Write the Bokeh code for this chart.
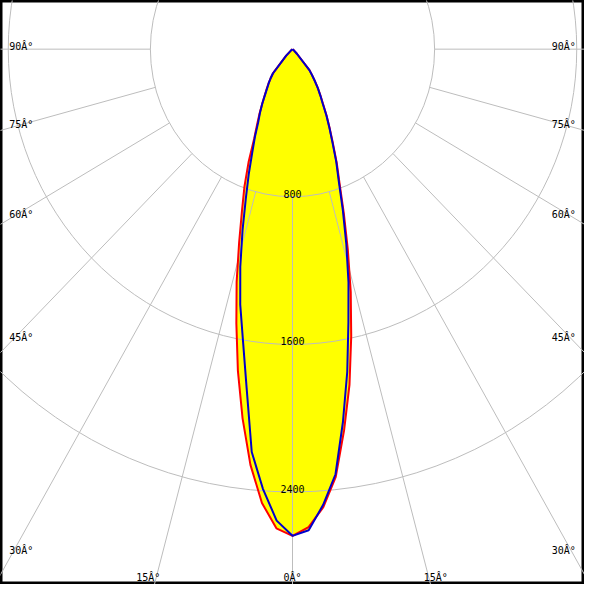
import numpy as np
from bokeh.plotting import figure
from bokeh.models import Range1d
from bokeh.core.properties import value
from bokeh.embed import file_html
from bokeh.resources import INLINE

# ---- data (cd) ----
angles = [0, 2, 4, 6, 8, 10, 12, 14, 16, 18, 20, 22, 24, 26, 28, 30, 32, 34, 36, 38, 40,
          45, 50, 55, 60, 65, 70, 75, 80, 85, 90]
c0 = [2637, 2591, 2488, 2330, 2086, 1847, 1590, 1355, 1130, 935, 775, 665, 560, 478, 410, 345,
      298, 257, 217, 180, 150, 35, 10, 0, 0, 0, 0, 0, 0, 0, 0]
c180 = [2637, 2598, 2465, 2265, 2020, 1770, 1520, 1300, 1090, 920, 790, 660, 530, 455, 395, 340,
        295, 260, 230, 200, 170, 50, 10, 0, 0, 0, 0, 0, 0, 0, 0]
c90 = [2637, 2608, 2475, 2316, 2040, 1775, 1514, 1303, 1099, 917, 762, 657, 553, 474, 406, 340,
       295, 255, 215, 178, 148, 35, 10, 0, 0, 0, 0, 0, 0, 0, 0]
c270 = [2637, 2556, 2388, 2195, 1855, 1605, 1415, 1215, 1020, 850, 720, 605, 520, 440, 390, 340,
        292, 255, 228, 200, 172, 50, 10, 0, 0, 0, 0, 0, 0, 0, 0]

ring_values = [800, 1600, 2400]
ring_labels = ["800", "1600", "2400"]
ray_angles = [-90, -75, -60, -45, -30, -15, 0, 15, 30, 45, 60, 75, 90]
side_angles = [90, 75, 60, 45, 30]
side_labels = ["90Â°", "75Â°", "60Â°", "45Â°", "30Â°"]
bottom_angles = [-15, 0, 15]
bottom_labels = ["15Â°", "0Â°", "15Â°"]

# ---- scales ----
SX = 5.479   # cd per reference pixel, horizontal
SY = 5.274   # cd per reference pixel, vertical
XR = 300 * SX
p = figure(width=584, height=584, output_backend="svg", toolbar_location=None,
           x_range=Range1d(-XR, XR), y_range=Range1d(-550 * SY, 50 * SY),
           x_axis_type=None, y_axis_type=None, min_border=0)
p.grid.visible = False
p.background_fill_color = "white"
p.border_fill_color = "white"
p.outline_line_color = "black"
p.outline_line_width = 4


def curve(right, left):
    a = np.radians(np.array(angles, dtype=float))
    r = np.array(right, dtype=float)
    l = np.array(left, dtype=float)
    xl = -(l * np.sin(a))[::-1]
    yl = -(l * np.cos(a))[::-1]
    xr = r * np.sin(a)
    yr = -(r * np.cos(a))
    return np.concatenate([xl, xr[1:]]), np.concatenate([yl, yr[1:]])


rx, ry = curve(c0, c180)
bx, by = curve(c90, c270)

# fills
p.patch(rx, ry, fill_color="#ffff00", line_color=None)
p.patch(bx, by, fill_color="#ffff00", line_color=None)

# grid
grid_col = "#bdbdbd"
for R in ring_values:
    p.ellipse(x=0, y=0, width=2 * R, height=2 * R, fill_color=None,
              line_color=grid_col, line_width=1)
ra = np.radians(np.array(ray_angles, dtype=float))
r0 = ring_values[0]
r1 = 6000
p.segment(x0=r0 * np.sin(ra), y0=-r0 * np.cos(ra), x1=r1 * np.sin(ra), y1=-r1 * np.cos(ra),
          line_color=grid_col, line_width=1)

font = value("DejaVu Sans Mono")
fs = "10px"

# ring labels
p.text(x=[0] * len(ring_values), y=[-v for v in ring_values], text=ring_labels,
       text_align="center", text_baseline="alphabetic", y_offset=-3,
       text_font=font, text_font_size=fs, text_color="black")

# side labels
sa = np.radians(np.array(side_angles, dtype=float))
xs = 291 * SX
cot = np.cos(sa) / np.sin(sa)
ys = -xs * cot
offs = -(3 + 3 * cot)
p.text(x=[-xs] * len(sa), y=ys, text=side_labels, text_align="left",
       text_baseline="alphabetic", y_offset=offs,
       text_font=font, text_font_size=fs, text_color="black")
p.text(x=[xs] * len(sa), y=ys, text=side_labels, text_align="right",
       text_baseline="alphabetic", y_offset=offs,
       text_font=font, text_font_size=fs, text_color="black")

# bottom labels
ba = np.radians(np.array(bottom_angles, dtype=float))
yb = 543 * SY
p.text(x=yb * np.tan(ba), y=[-yb] * len(ba), text=bottom_labels, text_align="center",
       text_baseline="alphabetic", x_offset=[-8, 0, 7],
       text_font=font, text_font_size=fs, text_color="black")

# curves
p.line(rx, ry, line_color="#ff0000", line_width=2)
p.line(bx, by, line_color="#0000cc", line_width=2)

open("out.html", "w").write(file_html(p, INLINE))
